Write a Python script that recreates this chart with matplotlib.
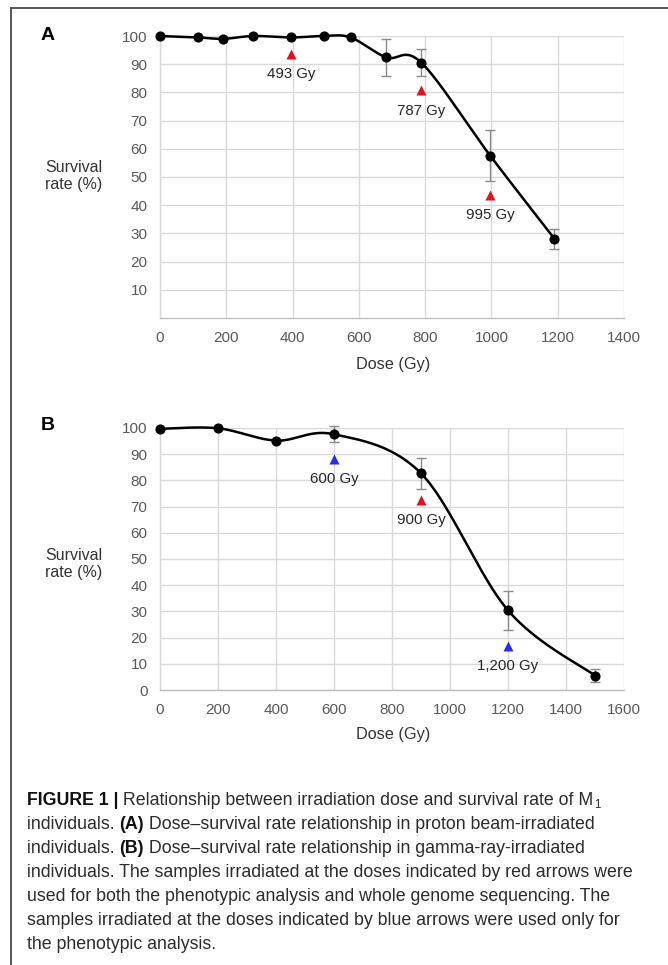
import numpy as np
import matplotlib
matplotlib.use("Agg")
import matplotlib.pyplot as plt
from matplotlib.lines import Line2D

plt.rcParams['font.family'] = ['Liberation Sans', 'DejaVu Sans']

# ---------------- data ----------------
# Panel A: proton beam
dose_A = [0, 114, 191, 282, 396, 495, 575, 683, 788, 996, 1190]
surv_A = [100, 99.5, 99.0, 100, 99.5, 100, 99.5, 92.4, 90.6, 57.6, 28.1]
err_A = [0, 0, 0, 0, 0, 0, 0, 6.7, 4.7, 9.0, 3.6]
tri_x_A = [396, 788, 996]
tri_y_A = [93.5, 80.7, 43.7]
tri_col_A = ['red', 'red', 'red']
tri_lab_A = ['493 Gy', '787 Gy', '995 Gy']

# Panel B: gamma ray
dose_B = [0, 200, 400, 600, 900, 1200, 1500]
surv_B = [99.7, 99.9, 95.2, 97.6, 82.7, 30.4, 5.5]
err_B = [0, 0, 0, 3.0, 5.8, 7.5, 2.5]
tri_x_B = [600, 900, 1200]
tri_y_B = [88.3, 72.4, 16.8]
tri_col_B = ['blue', 'red', 'blue']
tri_lab_B = ['600 Gy', '900 Gy', '1,200 Gy']

xticks_A = [0, 200, 400, 600, 800, 1000, 1200, 1400]
yticks_A = [10, 20, 30, 40, 50, 60, 70, 80, 90, 100]
xticks_B = [0, 200, 400, 600, 800, 1000, 1200, 1400, 1600]
yticks_B = [0, 10, 20, 30, 40, 50, 60, 70, 80, 90, 100]

COLORS = {'red': '#e3101e', 'blue': '#2b2bf0'}

W, H = 668, 965
fig = plt.figure(figsize=(W / 100, H / 100), dpi=100)
fig.patch.set_facecolor('white')


def px(x, y):
    return x / W, 1 - y / H


def make_axes(left, right, top, bottom):
    return fig.add_axes([left / W, 1 - bottom / H, (right - left) / W, (bottom - top) / H])


def smooth(ax, x, y, n=40):
    pts = ax.transData.transform(np.column_stack([x, y]))
    P = np.vstack([pts[0], pts, pts[-1]])
    segs = []
    t = np.linspace(0, 1, n)[:, None]
    for i in range(1, len(P) - 2):
        p0, p1, p2, p3 = P[i - 1], P[i], P[i + 1], P[i + 2]
        c1 = p1 + (p2 - p0) / 6
        c2 = p2 - (p3 - p1) / 6
        seg = (1 - t) ** 3 * p1 + 3 * (1 - t) ** 2 * t * c1 + 3 * (1 - t) * t ** 2 * c2 + t ** 3 * p2
        segs.append(seg)
    curve = np.vstack(segs)
    return ax.transData.inverted().transform(curve)


def panel(ax, dose, surv, err, tx, ty, tc, tl, xticks, yticks, xmax, letter, letter_y, ylab_y, xlab_y):
    ax.set_xlim(0, xmax)
    ax.set_ylim(0, 100)
    ax.set_xticks(xticks)
    ax.set_yticks(yticks)
    ax.set_xticklabels([str(v) for v in xticks])
    ax.set_yticklabels([str(v) for v in yticks])
    ax.tick_params(length=0, labelsize=11, labelcolor='#595959')
    ax.tick_params(axis='y', pad=9)
    ax.tick_params(axis='x', pad=9)
    ax.grid(True, color='#d9d9d9', lw=1.0)
    ax.set_axisbelow(True)
    for s in ['top', 'right']:
        ax.spines[s].set_visible(False)
    ax.spines['left'].set_color('#d9d9d9')
    ax.spines['bottom'].set_color('#bfbfbf')
    ax.spines['left'].set_linewidth(1.0)
    ax.spines['bottom'].set_linewidth(1.0)

    d = np.array(dose, float)
    s = np.array(surv, float)
    e = np.array(err, float)
    m = e > 0
    ax.errorbar(d[m], s[m], yerr=e[m], fmt='none', ecolor='#8a8a8a', elinewidth=1.0,
                capsize=3.5, capthick=1.0, zorder=3, clip_on=False)
    cx = smooth(ax, dose, surv)
    ax.plot(cx[:, 0], cx[:, 1], color='black', lw=1.8, zorder=4, clip_on=False)
    ax.plot(dose, surv, 'o', color='black', ms=6.3, zorder=5, clip_on=False)

    for x, y, c, lab in zip(tx, ty, tc, tl):
        ax.plot([x], [y], '^', color=COLORS[c], ms=7, mec='none', zorder=5)
        ax.annotate(lab, (x, y), xytext=(0, -14.5), textcoords='offset points',
                    ha='center', va='center', fontsize=10.8, color='#262626', zorder=6)

    fig.text(*px(48, letter_y), letter, fontsize=14, fontweight='bold', ha='center', va='center', color='black')
    fig.text(*px(74, ylab_y), 'Survival\nrate (%)', fontsize=11.5, ha='center', va='center',
             color='#333333', linespacing=1.1)
    fig.text(*px(393, xlab_y), 'Dose (Gy)', fontsize=11.7, ha='center', va='center', color='#333333')


axA = make_axes(160, 624, 36, 318)
panel(axA, dose_A, surv_A, err_A, tri_x_A, tri_y_A, tri_col_A, tri_lab_A,
      xticks_A, yticks_A, 1400, 'A', 36, 176, 364)

axB = make_axes(160, 624, 428, 690)
panel(axB, dose_B, surv_B, err_B, tri_x_B, tri_y_B, tri_col_B, tri_lab_B,
      xticks_B, yticks_B, 1600, 'B', 426, 564, 734)

# frame
fig.add_artist(Line2D([11 / W, 1], [1 - 8 / H, 1 - 8 / H], color='#4a4a4a', lw=1.3, transform=fig.transFigure))
fig.add_artist(Line2D([11 / W, 11 / W], [0, 1 - 8 / H], color='#4a4a4a', lw=1.3, transform=fig.transFigure))

# caption with mixed bold
caption = [
    [("FIGURE 1 |", 'b'), (" Relationship between irradiation dose and survival rate of M", 'n'), ("1", 's')],
    [("individuals. ", 'n'), ("(A)", 'b'), (" Dose\u2013survival rate relationship in proton beam-irradiated", 'n')],
    [("individuals. ", 'n'), ("(B)", 'b'), (" Dose\u2013survival rate relationship in gamma-ray-irradiated", 'n')],
    [("individuals. The samples irradiated at the doses indicated by red arrows were", 'n')],
    [("used for both the phenotypic analysis and whole genome sequencing. The", 'n')],
    [("samples irradiated at the doses indicated by blue arrows were used only for", 'n')],
    [("the phenotypic analysis.", 'n')],
]
fig.canvas.draw()
renderer = fig.canvas.get_renderer()
cap_fs = 12.8
x0 = 27
y0 = 800
dy = 24
for i, line in enumerate(caption):
    x = x0
    y = y0 + i * dy
    for txt, st in line:
        kw = dict(fontsize=cap_fs, color='#2b2b2b', ha='left', va='baseline')
        yy = y + 5
        if st == 'b':
            kw['fontweight'] = 'bold'
            kw['color'] = '#111111'
        if st == 's':
            kw['fontsize'] = cap_fs * 0.65
            yy = y + 8
        t = fig.text(*px(x, yy), txt, **kw)
        bb = t.get_window_extent(renderer=renderer)
        x += bb.width

fig.savefig('out.png', dpi=100, facecolor='white')
